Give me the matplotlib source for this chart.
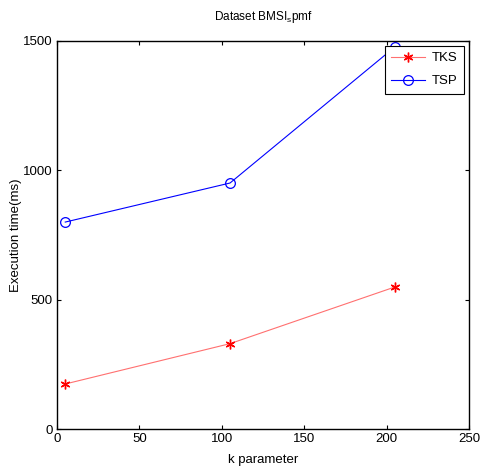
import matplotlib
matplotlib.use("Agg")
import matplotlib.pyplot as plt

# data
k_values = [5, 105, 205]
tks_ms = [174, 330, 549]
tsp_ms = [800, 951, 1477]

plt.rcParams['font.family'] = ['Liberation Sans', 'DejaVu Sans']

fig = plt.figure(figsize=(4.8, 4.68), dpi=100)
ax = fig.add_axes([57/480, 1 - 429/468, (469-57)/480, (429-41)/468])

ax.plot(k_values, tks_ms, color='#ff7070', linewidth=0.8, marker=(6, 2, 0),
        markersize=7, markeredgecolor='red', markeredgewidth=1.0, label='TKS')
ax.plot(k_values, tsp_ms, color='blue', linewidth=0.8, marker='o',
        markersize=7, markeredgecolor='blue', markerfacecolor='none',
        markeredgewidth=0.9, label='TSP')

ax.set_xlim(0, 250)
ax.set_ylim(0, 1500)
ax.set_xticks([0, 50, 100, 150, 200, 250])
ax.set_yticks([0, 500, 1000, 1500])
ax.tick_params(direction='in', top=True, right=True, labelsize=9.5, length=3, pad=3)
for s in ax.spines.values():
    s.set_linewidth(1.0)

ax.set_xlabel('k parameter', fontsize=9.5, labelpad=6)
ax.set_ylabel('Execution time(ms)', fontsize=9.5, labelpad=1)
ax.set_title('Dataset BMSI$_\\mathregular{s}$pmf', fontsize=8.5, pad=15)

leg = ax.legend(loc='upper right', fontsize=9.5, fancybox=False, framealpha=1,
                edgecolor='black', borderaxespad=0.35, handlelength=2.6,
                labelspacing=0.8, borderpad=0.5, handletextpad=0.5)
leg.get_frame().set_linewidth(0.8)

fig.savefig('out.png', dpi=100)
